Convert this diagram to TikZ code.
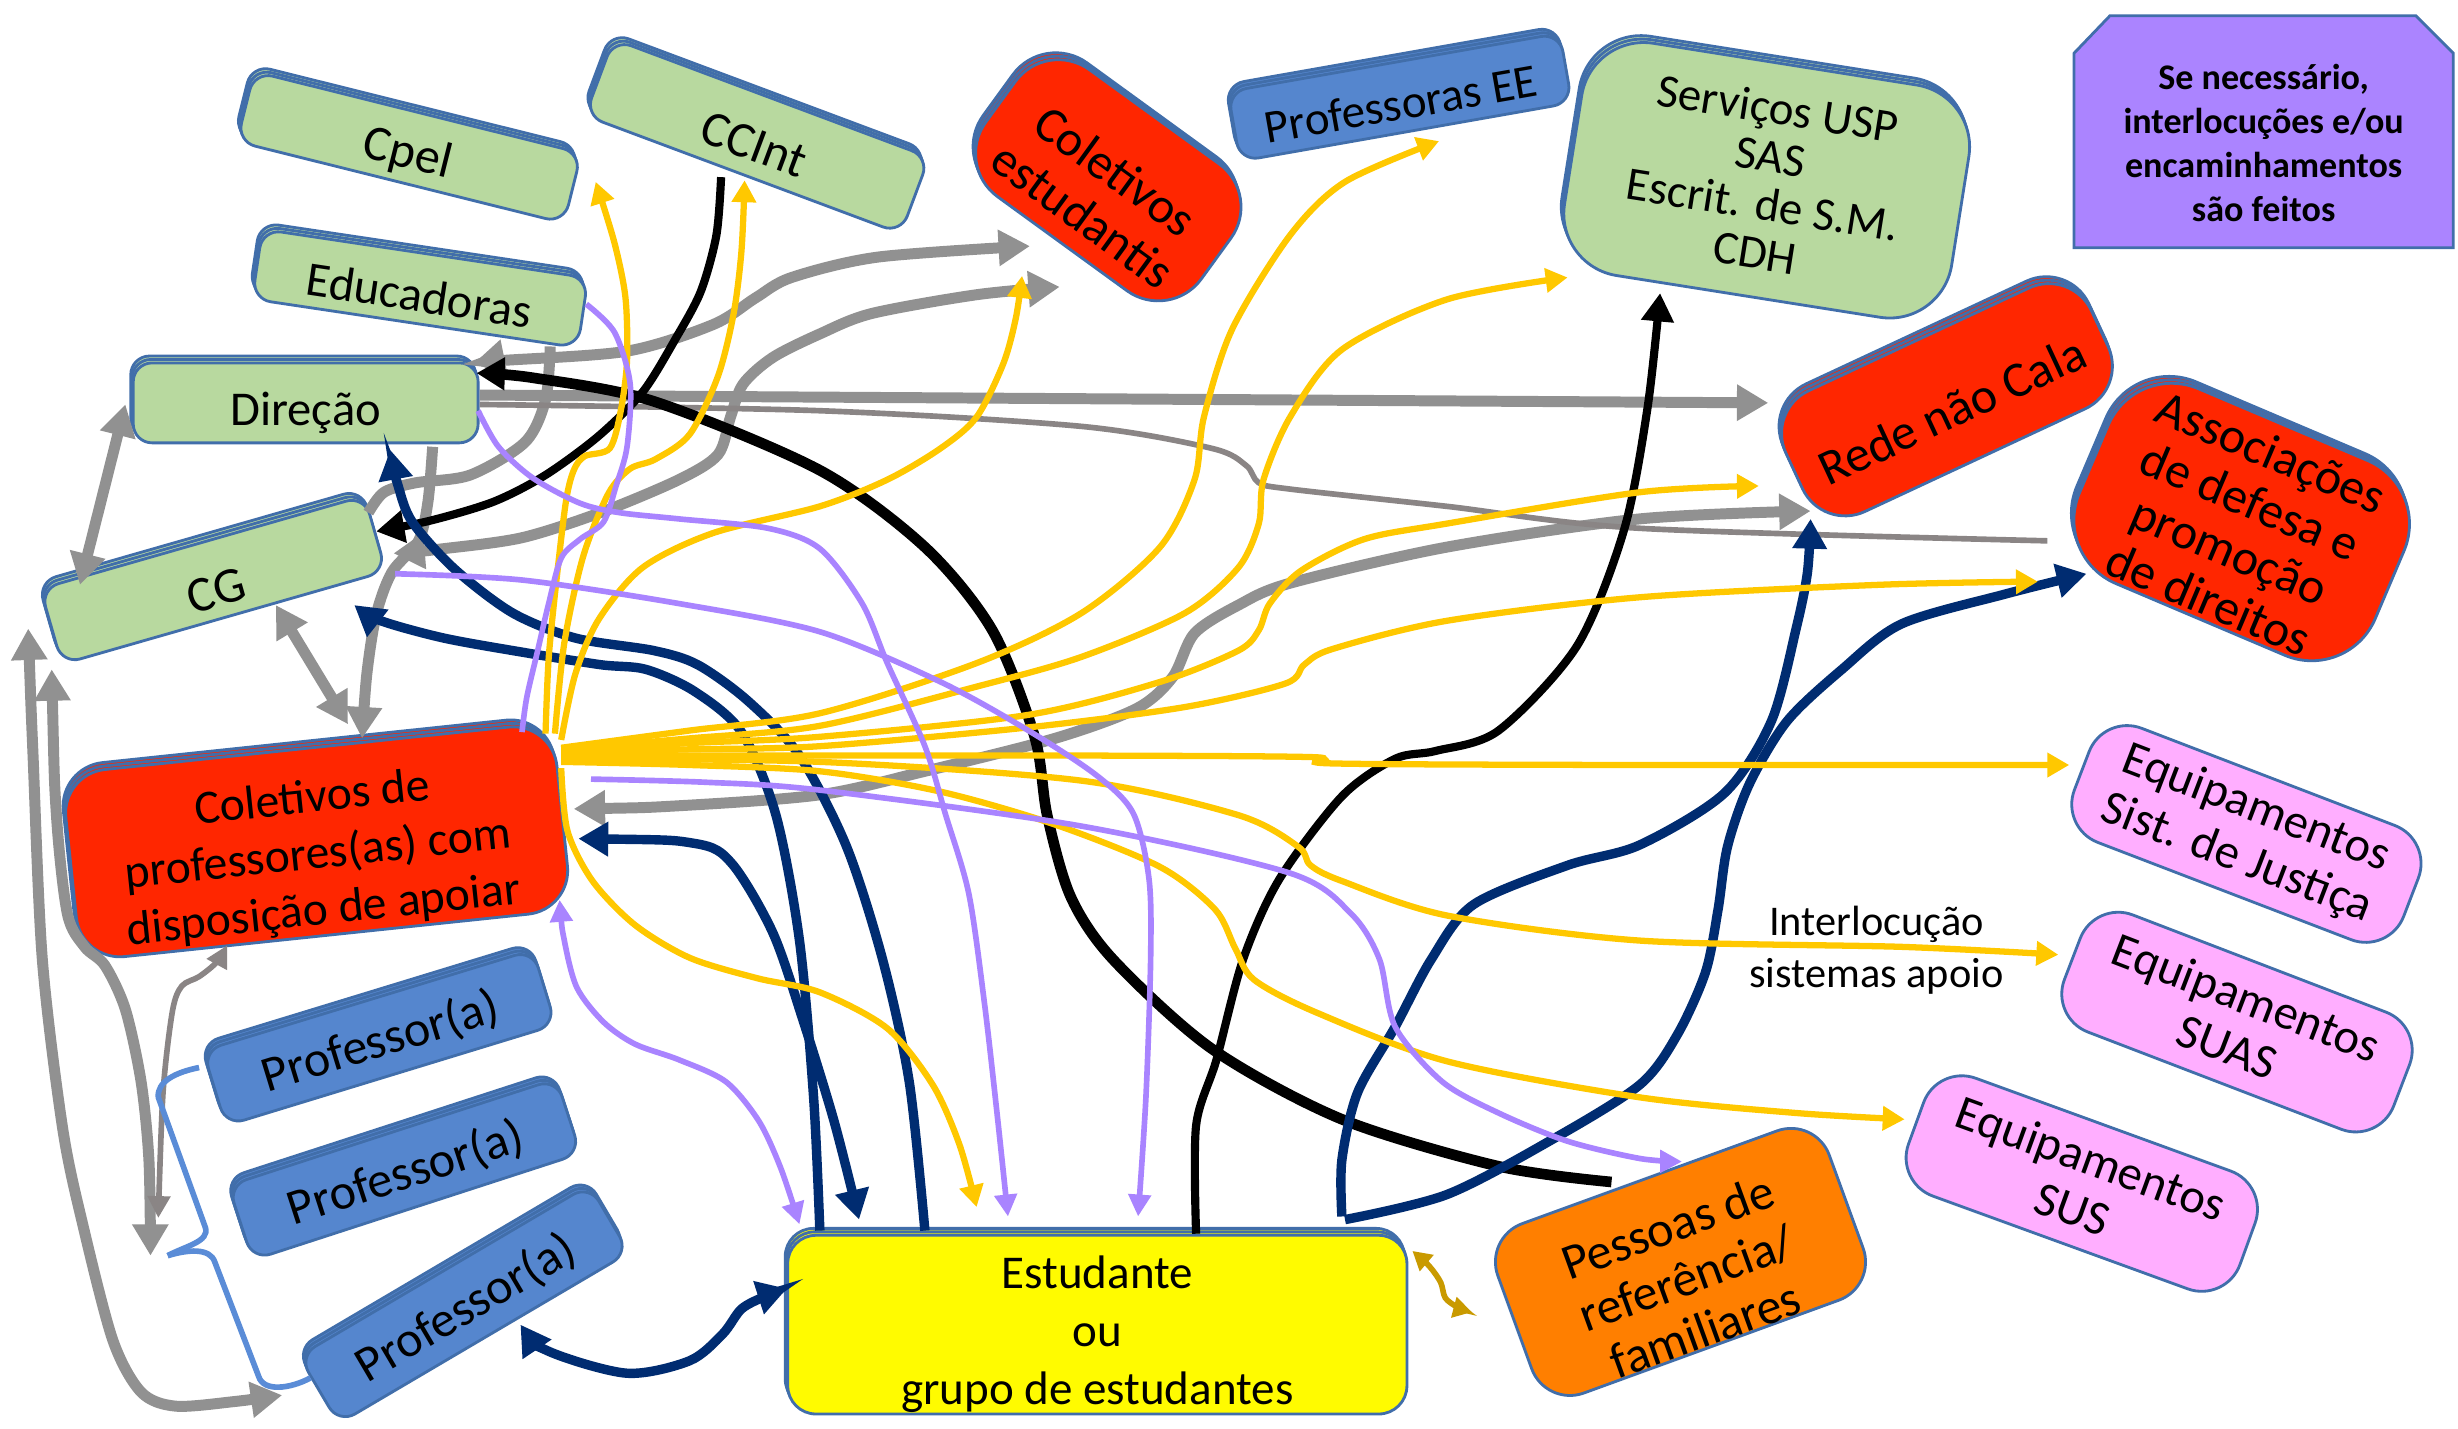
\documentclass[tikz,border=0pt]{standalone}
\usepackage{fontspec}
\setmainfont{Carlito}
\usetikzlibrary{arrows.meta,shadows}
\definecolor{grn}{HTML}{B8D99F}
\definecolor{bord}{HTML}{416EAA}
\definecolor{redf}{HTML}{FF2600}
\definecolor{bluef}{HTML}{5586CE}
\definecolor{yelf}{HTML}{FFFB00}
\definecolor{oraf}{HTML}{FF7F00}
\definecolor{pinkf}{HTML}{FFAEFF}
\definecolor{purf}{HTML}{AB84FF}
\definecolor{gline}{HTML}{919191}
\definecolor{tgline}{HTML}{8A8585}
\definecolor{yline}{HTML}{FFC800}
\definecolor{pline}{HTML}{A984FF}
\definecolor{nline}{HTML}{002C71}
\definecolor{goldl}{HTML}{C99A00}
\definecolor{brl}{HTML}{5A8CD7}
\newcommand{\tdn}[1]{\rule{0pt}{#1}}
\tikzset{
  box/.style={draw=bord, line width=0.9pt, inner sep=0pt, align=center, font=\fontsize{15.5}{17}\selectfont},
  stack/.style={double copy shadow={shadow xshift=-0.4pt, shadow yshift=1.1pt}},
  gE/.style={draw=gline, line width=3.5pt},
  tgE/.style={draw=tgline, line width=1.8pt},
  yE/.style={draw=yline, line width=2pt, -{Triangle[length=7pt,width=7.5pt]}},
  pE/.style={draw=pline, line width=1.8pt},
  nE/.style={draw=nline, line width=3pt},
  bE/.style={draw=black, line width=2.6pt},
  brE/.style={draw=brl, line width=1.8pt},
  gT/.style={-{Triangle[length=10pt,width=11pt]}},
  gTT/.style={{Triangle[length=10pt,width=11pt]}-{Triangle[length=10pt,width=11pt]}},
  tgTT/.style={{Triangle[length=7pt,width=7pt]}-{Triangle[length=7pt,width=7pt]}},
  pT/.style={-{Triangle[length=7pt,width=7pt]}},
  pTT/.style={{Triangle[length=7pt,width=7pt]}-{Triangle[length=7pt,width=7pt]}},
  nT/.style={-{Triangle[length=9.5pt,width=10.5pt]}},
  nS/.style={{Triangle[length=9.5pt,width=10.5pt]}-},
  nTT/.style={{Triangle[length=9.5pt,width=10.5pt]}-{Triangle[length=9.5pt,width=10.5pt]}},
  bT/.style={-{Triangle[length=9pt,width=10pt]}},
  oTT/.style={{Triangle[length=6pt,width=6.5pt]}-{Triangle[length=6pt,width=6.5pt]}},
}
\begin{document}
\begin{tikzpicture}[x=0.5pt,y=-0.5pt]
\fill[white] (0,0) rectangle (1568,911);
\useasboundingbox (0,0) rectangle (1568,911);

% ---------------- nodes ----------------
\node[box,stack,fill=grn,rotate=-14,minimum width=107.5pt,minimum height=23pt,rounded corners=6pt,font=\fontsize{16}{17}\selectfont] (cpel) at (261,94) {\tdn{16pt}Cpel};
\node[box,stack,fill=grn,rotate=-20.5,minimum width=107.5pt,minimum height=26pt,rounded corners=6pt,font=\fontsize{16}{17}\selectfont] (ccint) at (483,87) {\tdn{16pt}CCInt};
\node[box,stack,fill=grn,rotate=-8.5,minimum width=105pt,minimum height=22.5pt,rounded corners=6pt] (educ) at (268,184) {\tdn{15pt}Educadoras};
\node[box,stack,fill=grn,minimum width=110pt,minimum height=25.5pt,rounded corners=6pt] (dir) at (195,257) {\tdn{17pt}Direção};
\node[box,stack,fill=grn,rotate=16,minimum width=107.5pt,minimum height=25pt,rounded corners=6pt,font=\fontsize{16}{17}\selectfont] (cg) at (136,370) {\tdn{17.5pt}CG};
\node[box,stack,fill=redf,rotate=6,minimum width=157.5pt,minimum height=60pt,rounded corners=14pt,font=\fontsize{15.2}{18}\selectfont] (colprof) at (202,537) {\tdn{19.5pt}Coletivos de\\professores(as) com\\disposição de apoiar};
\node[box,stack,fill=bluef,rotate=17,minimum width=110pt,minimum height=25pt,rounded corners=6pt,font=\fontsize{16}{17}\selectfont] (prof1) at (242,662) {\tdn{14.5pt}Professor(a)};
\node[box,stack,fill=bluef,rotate=18,minimum width=110pt,minimum height=25pt,rounded corners=6pt,font=\fontsize{16}{17}\selectfont] (prof2) at (258,746) {\tdn{14.5pt}Professor(a)};
\node[box,stack,fill=bluef,rotate=30.5,minimum width=107.5pt,minimum height=25pt,rounded corners=6pt,font=\fontsize{16}{17}\selectfont] (prof3) at (296,832) {\tdn{14.5pt}Professor(a)};
\node[box,stack,fill=yelf,minimum width=197.5pt,minimum height=57pt,rounded corners=9pt,font=\fontsize{15}{18.5}\selectfont] (est) at (700,845) {\tdn{16.5pt}Estudante\\ou\\grupo de estudantes};
\node[box,fill=oraf,rotate=20,minimum width=112.5pt,minimum height=57.5pt,rounded corners=13pt,font=\fontsize{16}{17.5}\selectfont] (pess) at (1072,805) {\tdn{22pt}Pessoas de\\referência/\\familiares};
\node[box,fill=pinkf,rotate=-20,minimum width=112.5pt,minimum height=40pt,rounded corners=13pt,font=\fontsize{15.5}{17}\selectfont] (sus) at (1328,755) {Equipamentos\\SUS};
\node[box,fill=pinkf,rotate=-21,minimum width=112.5pt,minimum height=40pt,rounded corners=13pt,font=\fontsize{15.5}{17}\selectfont] (suas) at (1427,652) {Equipamentos\\SUAS};
\node[box,fill=pinkf,rotate=-21,minimum width=112.5pt,minimum height=39pt,rounded corners=13pt,font=\fontsize{15.5}{17}\selectfont] (just) at (1433,532) {Equipamentos\\Sist. de Justiça};
\node[box,stack,fill=redf,rotate=-23,minimum width=102.5pt,minimum height=67.5pt,rounded corners=22pt,font=\fontsize{16}{17}\selectfont] (assoc) at (1430,333) {\tdn{13.5pt}Associações\\de defesa e\\promoção\\de direitos};
\node[box,stack,fill=redf,rotate=25,minimum width=107.5pt,minimum height=42.5pt,rounded corners=15pt,font=\fontsize{16}{17}\selectfont] (rede) at (1242,255) {\tdn{18.5pt}Rede não Cala};
\node[box,stack,fill=grn,rotate=-9,minimum width=125pt,minimum height=75pt,rounded corners=20pt,font=\fontsize{15}{15.5}\selectfont] (serv) at (1127,115) {Serviços USP\\SAS\\Escrit. de S.M.\\CDH};
\node[box,stack,fill=bluef,rotate=10,minimum width=107.5pt,minimum height=22.5pt,rounded corners=6pt,font=\fontsize{15}{17}\selectfont] (profee) at (893,62) {\tdn{14.5pt}Professoras EE};
\node[box,stack,fill=redf,rotate=-36,minimum width=85pt,minimum height=50pt,rounded corners=17pt,font=\fontsize{16}{17.5}\selectfont] (colest) at (707,115) {\tdn{21pt}Coletivos\\estudantis};
\path[draw=bord,line width=0.9pt,fill=purf] (1323,34) -- (1346,10) -- (1541,10) -- (1565,34) -- (1565,158) -- (1323,158) -- cycle;
\node[font=\bfseries\fontsize{11.5}{14}\selectfont,align=center,inner sep=0pt] (senec) at (1444,91) {Se necessário,\\interlocuções e/ou\\encaminhamentos\\são feitos};
\node[font=\fontsize{13.5}{16.5}\selectfont,align=center,inner sep=0pt] (lbl) at (1197,606) {Interlocução\\sistemas apoio};

% ---------------- end points ----------------
\coordinate (g1a) at (306,252); \coordinate (g1b) at (1128,257);
\coordinate (g2a) at (302,232); \coordinate (g2b) at (657,157);
\coordinate (g3a) at (251,353); \coordinate (g3b) at (676,183);
\coordinate (g4a) at (351,221); \coordinate (g4b) at (235,327);
\coordinate (g5a) at (276,285); \coordinate (g5b) at (231,471);
\coordinate (g6a) at (176,386); \coordinate (g6b) at (222,462);
\coordinate (g7a) at (80,258);  \coordinate (g7b) at (51,373);
\coordinate (g8a) at (18,401);  \coordinate (g8b) at (180,890);
\coordinate (g8c) at (33,427);  \coordinate (g8d) at (96,801);
\coordinate (g9a) at (145,603); \coordinate (g9b) at (101,777);
\coordinate (g10a) at (366,516); \coordinate (g10b) at (1155,326);
\coordinate (t1a) at (306,258); \coordinate (t1b) at (1306,345);
\coordinate (b1a) at (460,113); \coordinate (b1b) at (240,339);
\coordinate (b2a) at (1028,754); \coordinate (b2b) at (304,238);
\coordinate (b3a) at (763,787); \coordinate (b3b) at (1059,187);
\coordinate (n1a) at (249,287); \coordinate (n1b) at (590,785);
\coordinate (n2a) at (226,386); \coordinate (n2b) at (523,785);
\coordinate (n3a) at (856,776); \coordinate (n3b) at (1155,331);
\coordinate (n4a) at (858,778); \coordinate (n4b) at (1331,366);
\coordinate (n5a) at (332,845); \coordinate (n5b) at (502,822);
\coordinate (n6a) at (369,535); \coordinate (n6b) at (548,778);
\coordinate (p1a) at (374,194); \coordinate (p1b) at (333,467);
\coordinate (p2a) at (305,262); \coordinate (p2b) at (643,776);
\coordinate (p3a) at (252,366); \coordinate (p3b) at (726,776);
\coordinate (p4a) at (377,497); \coordinate (p4b) at (1073,741);
\coordinate (p5a) at (357,574); \coordinate (p5b) at (510,781);
\coordinate (o1a) at (901,798); \coordinate (o1b) at (939,837);
\coordinate (br1) at (127,681); \coordinate (br2) at (107,801); \coordinate (br3) at (198,879);

% ---------------- gray ----------------
\draw[gE,gT] (g1a) -- (g1b);
\draw[gE,gTT] plot[smooth] coordinates {(g2a) (320,230) (400,224) (455,207) (482,190) (505,177) (560,164) (g2b)};
\draw[gE,gTT] plot[smooth] coordinates {(g3a) (283,350) (333,343) (383,327) (433,306) (458,290) (466,266) (474,245) (493,228) (523,213) (556,200) (623,188) (g3b)};
\draw[gE] plot[smooth] coordinates {(g4a) (348,255) (335,282) (300,303) (265,308) (245,314) (g4b)};
\draw[gE,gT] plot[smooth] coordinates {(g5a) (273,320) (267,345) (250,365) (240,392) (234,430) (g5b)};
\draw[gE,gTT] (g6a) -- (g6b);
\draw[gE,gTT] (g7a) -- (g7b);
\draw[gE,gTT] plot[smooth] coordinates {(g8a) (21,480) (27,612) (40,720) (53,782) (72,855) (90,888) (112,897) (150,894) (g8b)};
\draw[gE,gTT] plot[smooth] coordinates {(g8c) (36,520) (43,583) (54,604) (67,616) (80,644) (90,690) (95,740) (g8d)};
\draw[gE,gTT] plot[smooth] coordinates {(g10a) (433,514) (523,507) (590,492) (673,471) (725,452) (748,432) (762,404) (790,386) (823,372) (923,349) (1046,331) (g10b)};
\draw[tgE,tgTT] plot[smooth] coordinates {(g9a) (138,614) (127,623) (116,629) (110,645) (104,697) (g9b)};
\draw[tgE] plot[smooth] coordinates {(t1a) (523,262) (690,272) (773,286) (795,297) (803,308) (823,312) (923,323) (1046,337) (t1b)};

% ---------------- black ----------------
\draw[bE,bT] plot[smooth] coordinates {(b1a) (457,150) (447,186) (431,216) (410,250) (382,278) (348,303) (315,320) (275,332) (b1b)};
\draw[bE,bT,line width=3.4pt] plot[smooth] coordinates {(b2a) (956,744) (856,714) (773,669) (710,612) (683,572) (668,520) (660,470) (633,402) (590,349) (523,300) (417,256) (340,241) (b2b)};
\draw[bE,bT] plot[smooth] coordinates {(b3a) (763,718) (776,676) (793,612) (816,561) (856,508) (890,484) (916,479) (956,466) (1006,412) (1036,338) (1051,260) (b3b)};

% ---------------- navy ----------------
\draw[nE,nS] plot[smooth] coordinates {(n1a) (254,310) (263,333) (290,363) (327,391) (367,407) (417,415) (445,424) (477,447) (510,482) (540,540) (563,612) (580,690) (n1b)};
\draw[nE,nS] plot[smooth] coordinates {(n2a) (243,396) (283,407) (333,416) (383,424) (412,427) (443,441) (473,467) (495,520) (510,600) (519,700) (n2b)};
\draw[nE,nTT] plot[smooth] coordinates {(n6a) (443,538) (467,551) (493,595) (512,650) (532,715) (n6b)};
\draw[nE,nT] plot[smooth] coordinates {(n3a) (856,740) (866,697) (890,655) (913,612) (940,577) (1000,552) (1046,539) (1100,506) (1130,460) (1146,400) (1153,365) (n3b)};
\draw[nE,nT] plot[smooth] coordinates {(n4a) (923,762) (990,727) (1046,692) (1070,660) (1088,620) (1096,580) (1102,540) (1116,500) (1140,460) (1175,427) (1213,398) (1279,379) (n4b)};
\draw[nE,nTT] plot[smooth] coordinates {(n5a) (350,862) (400,876) (440,868) (461,851) (473,835) (488,827) (n5b)};

% ---------------- yellow ----------------
\coordinate (y1a) at (348,468);  \coordinate (y1b) at (380,116);
\coordinate (y2a) at (354,468);  \coordinate (y2b) at (475,115);
\coordinate (y3a) at (358,472);  \coordinate (y3b) at (652,176);
\coordinate (y4a) at (358,477);  \coordinate (y4b) at (918,90);
\coordinate (y5a) at (358,478);  \coordinate (y5b) at (1000,177);
\coordinate (y6a) at (358,479);  \coordinate (y6b) at (1122,310);
\coordinate (y7a) at (358,480);  \coordinate (y7b) at (1300,371);
\coordinate (y8a) at (358,482);  \coordinate (y8b) at (1320,488);
\coordinate (y9a) at (358,484);  \coordinate (y9b) at (1313,609);
\coordinate (y10a) at (358,486); \coordinate (y10b) at (1215,714);
\coordinate (y11a) at (358,490); \coordinate (y11b) at (623,770);
\draw[yE] plot[smooth] coordinates {(y1a) (350,420) (355,370) (361,320) (366,300) (373,291) (389,286) (396,262) (400,230) (399,190) (392,155) (y1b)};
\draw[yE] plot[smooth] coordinates {(y2a) (360,410) (372,355) (388,315) (402,299) (418,293) (440,277) (458,240) (468,200) (473,160) (y2b)};
\draw[yE] plot[smooth] coordinates {(y3a) (367,430) (382,395) (410,362) (455,340) (523,323) (566,306) (600,286) (623,266) (640,232) (648,203) (y3b)};
\draw[yE] plot[smooth] coordinates {(y4a) (440,466) (523,455) (623,423) (690,391) (740,349) (762,306) (768,266) (786,210) (823,150) (858,116) (y4b)};
\draw[yE] plot[smooth] coordinates {(y5a) (440,471) (523,463) (623,438) (690,419) (756,391) (790,362) (803,334) (806,306) (823,266) (856,223) (923,191) (y5b)};
\draw[yE] plot[smooth] coordinates {(y6a) (440,474) (523,470) (656,456) (740,435) (790,415) (803,402) (810,385) (830,364) (870,344) (923,334) (1046,314) (y6b)};
\draw[yE] plot[smooth] coordinates {(y7a) (440,478) (523,476) (656,464) (756,451) (820,436) (832,424) (850,414) (923,396) (1046,381) (1200,373) (y7b)};
\draw[yE] plot[smooth] coordinates {(y8a) (523,482) (700,482) (838,483) (850,487) (1046,488) (y8b)};
\draw[yE] plot[smooth] coordinates {(y9a) (523,486) (690,498) (790,520) (828,540) (836,552) (856,562) (923,584) (1046,600) (1213,604) (y9b)};
\draw[yE] plot[smooth] coordinates {(y10a) (440,488) (523,492) (600,505) (673,526) (740,553) (775,580) (788,605) (800,625) (840,646) (923,677) (1046,700) (1146,710) (y10b)};
\draw[yE] plot[smooth] coordinates {(y11a) (362,530) (378,562) (405,590) (440,611) (483,624) (523,633) (566,656) (595,692) (612,730) (y11b)};

% ---------------- purple ----------------
\draw[pE] plot[smooth] coordinates {(p1a) (392,212) (402,245) (400,285) (393,310) (385,333) (370,344) (358,356) (350,385) (343,415) (336,445) (p1b)};
\draw[pE,pT] plot[smooth] coordinates {(p2a) (318,285) (340,305) (370,321) (395,327) (433,331) (490,337) (523,350) (550,385) (566,423) (590,476) (603,519) (618,570) (628,640) (636,710) (p2b)};
\draw[pE,pT] plot[smooth] coordinates {(p3a) (333,370) (433,385) (523,403) (600,435) (656,466) (700,495) (723,519) (733,561) (734,612) (731,700) (p3b)};
\draw[pE,pT] plot[smooth] coordinates {(p4a) (450,499) (523,504) (690,527) (823,557) (862,583) (880,612) (890,655) (920,690) (956,710) (1000,728) (1046,739) (p4b)};
\draw[pE,pTT] plot[smooth] coordinates {(p5a) (360,600) (368,630) (385,652) (405,666) (433,676) (463,690) (484,715) (498,745) (p5b)};

% ---------------- gold and bracket ----------------
\draw[draw=goldl,line width=1.8pt,oTT] plot[smooth] coordinates {(o1a) (912,808) (919,818) (922,828) (930,834) (o1b)};
\draw[brE] (br1) .. controls (112,684) and (100,690) .. (101,700) -- (131,783) .. controls (134,792) and (118,795) .. (br2);
\draw[brE] (br2) .. controls (120,797) and (134,796) .. (137,805) -- (165,878) .. controls (168,888) and (185,886) .. (br3);
\end{tikzpicture}
\end{document}
